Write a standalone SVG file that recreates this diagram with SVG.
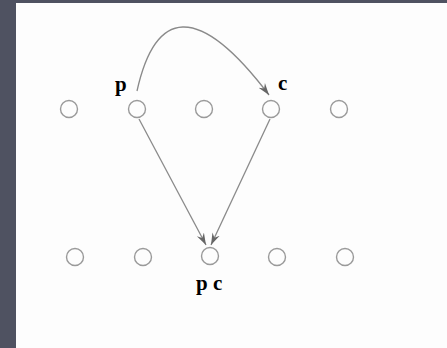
<svg xmlns="http://www.w3.org/2000/svg" width="447" height="348" viewBox="0 0 447 348">
<style>
.n{fill:none;stroke:#9a9a9a;stroke-width:1.4}
.e{fill:none;stroke:#8a8a8a;stroke-width:1.3}
.t{font-family:"Liberation Serif","Times New Roman",serif;font-size:21px;font-weight:bold;fill:#000}
</style>
<defs>
<marker id="ah" viewBox="0 0 12 10" refX="12" refY="5" markerWidth="12" markerHeight="10" markerUnits="userSpaceOnUse" orient="auto">
<path d="M0,1 L12,5 L0,9 L4,5 Z" fill="#666"/>
</marker>
</defs>
<rect x="0" y="0" width="447" height="348" fill="#4f5261"/>
<rect x="16" y="3" width="431" height="345" fill="#fdfdfd"/>
<g id="connectors">
<path class="e" d="M137,91 C155,10 197,0 269,95" marker-end="url(#ah)"/>
<path class="e" d="M139,119 L206,245" marker-end="url(#ah)"/>
<path class="e" d="M270,119 L211,245" marker-end="url(#ah)"/>
</g>
<g id="t1"><circle class="n" cx="69" cy="109" r="8.5"/></g>
<g id="t2"><circle class="n" cx="137" cy="109" r="8.5"/><text class="t" x="115" y="91">p</text></g>
<g id="t3"><circle class="n" cx="204" cy="109" r="8.5"/></g>
<g id="t4"><circle class="n" cx="271" cy="109" r="8.5"/><text class="t" x="278" y="90">c</text></g>
<g id="t5"><circle class="n" cx="339" cy="109" r="8.5"/></g>
<g id="b1"><circle class="n" cx="75" cy="257" r="8.5"/></g>
<g id="b2"><circle class="n" cx="143" cy="257" r="8.5"/></g>
<g id="b3"><circle class="n" cx="210" cy="256" r="8.5"/><text class="t" x="196" y="290">p c</text></g>
<g id="b4"><circle class="n" cx="277" cy="257" r="8.5"/></g>
<g id="b5"><circle class="n" cx="345" cy="257" r="8.5"/></g>
</svg>
